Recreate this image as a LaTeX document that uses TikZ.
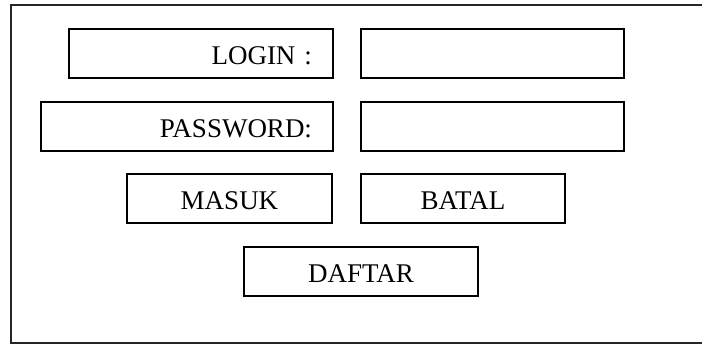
\documentclass[tikz,border=0pt]{standalone}
\usepackage{fontspec}
\setmainfont{Liberation Serif}
\begin{document}
\begin{tikzpicture}[x=1pt,y=-1pt,
  box/.style={draw=black, line width=1.4pt, rectangle, minimum height=49pt,
    inner ysep=0pt, inner xsep=0pt, text height=23pt, text depth=0pt,
    font=\fontsize{27}{32}\selectfont},
  lbl/.style={box, align=right}]
\useasboundingbox (0,0) rectangle (702,344);
\draw[line width=1.8pt, black!85] (703,5) -- (11,5) -- (11,343) -- (703,343);
\node[lbl, minimum width=264pt, text width=222pt] (login) at (201,53.5) {LOGIN :};
\node[box, minimum width=263pt] (loginfield) at (492.5,53.5) {};
\node[lbl, minimum width=292pt, text width=250pt] (pass) at (187,126.5) {PASSWORD:};
\node[box, minimum width=263pt] (passfield) at (492.5,126.5) {};
\node[box, minimum width=205pt] (masuk) at (229.5,198.5) {MASUK};
\node[box, minimum width=204pt] (batal) at (463,198.5) {BATAL};
\node[box, minimum width=234pt] (daftar) at (361,271.5) {DAFTAR};
\end{tikzpicture}
\end{document}
